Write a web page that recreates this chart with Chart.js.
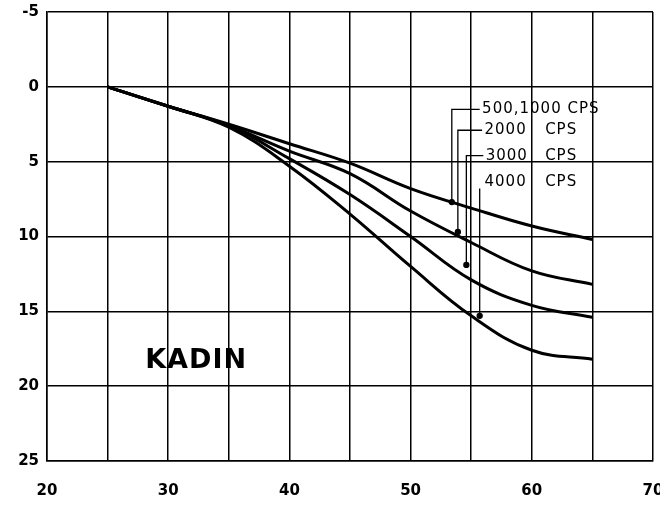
<!DOCTYPE html>
<html>
<head>
<meta charset="utf-8">
<script src="https://cdn.jsdelivr.net/npm/chart.js@4/dist/chart.umd.min.js"></script>
<style>
  html, body { margin: 0; padding: 0; background: #fff; }
  #wrap { width: 660px; height: 507px; }
</style>
</head>
<body>
<div id="wrap"><canvas id="chart"></canvas></div>
<script>
// age (x) and hearing loss (y, dB) per frequency
const ages = [25, 30, 35, 40, 45, 50, 55, 60, 65];
const loss500 = [0, 1.3, 2.5, 3.8, 5.1, 6.8, 8.1, 9.3, 10.2];
const loss2000 = [0, 1.3, 2.6, 4.3, 5.8, 8.3, 10.4, 12.3, 13.2];
const loss3000 = [0, 1.3, 2.6, 4.8, 7.2, 10.0, 12.9, 14.6, 15.4];
const loss4000 = [0, 1.3, 2.7, 5.3, 8.5, 12.0, 15.3, 17.6, 18.2];

const xTicks = [20, 30, 40, 50, 60, 70];
const yTicks = [-5, 0, 5, 10, 15, 20, 25];

// curve labels: text, x, y  (data units)
const labelNames = ['500,1000 CPS', '2000', '3000', '4000'];
const labelX = [55.9, 56.1, 56.2, 56.1];
const labelY = [1.5, 2.9, 4.6, 6.35];
const cpsX = 61.1;

// leader lines: x of vertical, y of top, y of dot on curve
const leaderX = [53.4, 53.9, 54.6, 55.7];
const leaderTop = [1.5, 2.9, 4.6, 6.8];
const leaderDot = [7.7, 9.7, 11.9, 15.3];

const pts = ys => ages.map((a, i) => ({ x: a, y: ys[i] }));

const curve = ys => ({
    data: pts(ys),
    borderColor: '#000',
    borderWidth: 3,
    pointRadius: 0,
    tension: 0.4,
    fill: false
});

const leaders = leaderX.map((lx, i) => {
    const d = [];
    if (i < 3) d.push({ x: labelX[i] - 0.2, y: leaderTop[i] });
    d.push({ x: lx, y: leaderTop[i] });
    d.push({ x: lx, y: leaderDot[i] });
    return {
        data: d,
        borderColor: '#000',
        backgroundColor: '#000',
        borderWidth: 1.3,
        tension: 0,
        pointRadius: d.map((p, j) => j === d.length - 1 ? 2.5 : 0),
        fill: false
    };
});

const textPlugin = {
    id: 'texts',
    afterDatasetsDraw(chart) {
        const ctx = chart.ctx;
        const xs = chart.scales.x, ys = chart.scales.y;
        ctx.save();
        ctx.fillStyle = '#000';
        ctx.textBaseline = 'middle';
        ctx.textAlign = 'left';
        ctx.font = '15px "DejaVu Sans"';
        ctx.letterSpacing = '1px';
        labelNames.forEach((t, i) => {
            ctx.fillText(t, xs.getPixelForValue(labelX[i]), ys.getPixelForValue(labelY[i]));
            if (i > 0) ctx.fillText('CPS', xs.getPixelForValue(cpsX), ys.getPixelForValue(labelY[i]));
        });
        ctx.font = 'bold 27px "DejaVu Sans"';
        ctx.letterSpacing = '1px';
        ctx.fillText('KADIN', xs.getPixelForValue(28.1), ys.getPixelForValue(18.3));
        ctx.restore();
    }
};

new Chart(document.getElementById('chart'), {
    type: 'line',
    data: {
        datasets: [curve(loss500), curve(loss2000), curve(loss3000), curve(loss4000), ...leaders]
    },
    options: {
        responsive: true,
        maintainAspectRatio: false,
        animation: false,
        layout: { padding: { top: 12, right: 7, left: 0, bottom: 0 } },
        plugins: { legend: { display: false }, tooltip: { enabled: false } },
        scales: {
            x: {
                type: 'linear',
                min: 20,
                max: 70,
                ticks: {
                    stepSize: 5,
                    maxRotation: 0,
                    autoSkip: false,
                    color: '#000',
                    padding: 21,
                    font: { family: 'DejaVu Sans', size: 15, weight: 'bold' },
                    callback: v => xTicks.includes(v) ? String(v) : ''
                },
                grid: { color: '#000', lineWidth: 1.5, drawTicks: false },
                border: { color: '#000', width: 1.5 },
                afterFit: s => { s.height = 46; s.paddingLeft = 0; s.paddingRight = 0; }
            },
            y: {
                type: 'linear',
                reverse: true,
                min: -5,
                max: 25,
                ticks: {
                    stepSize: 5,
                    color: '#000',
                    padding: 8,
                    font: { family: 'DejaVu Sans', size: 15, weight: 'bold' },
                    callback: v => yTicks.includes(v) ? String(v) : ''
                },
                grid: { color: '#000', lineWidth: 1.5, drawTicks: false },
                border: { color: '#000', width: 1.5 },
                afterFit: s => { s.width = 47; s.paddingTop = 0; s.paddingBottom = 0; }
            }
        }
    },
    plugins: [textPlugin]
});
</script>
</body>
</html>
